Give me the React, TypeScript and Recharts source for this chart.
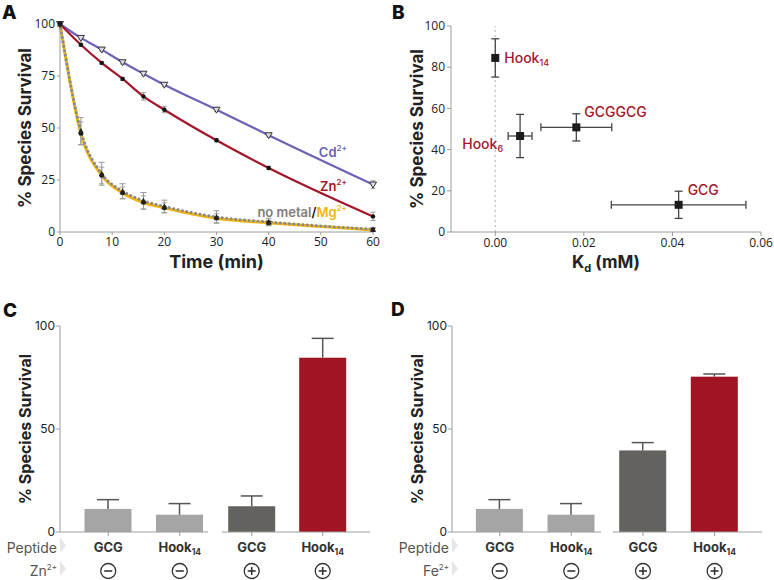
import React from "react";
import {
  ComposedChart,
  Line,
  Bar,
  Cell,
  XAxis,
  YAxis,
  ErrorBar,
  ReferenceDot,
  ReferenceLine,
  ScatterChart,
  Scatter,
  Label,
} from "recharts";

// panel A: survival over time
const times = [0, 4, 8, 12, 16, 20, 30, 40, 60];
const cdSurvival = [100, 93.3, 87.7, 81.6, 76.1, 70.8, 58.8, 46.5, 22.8];
const cdError = [0, 0.6, 0.6, 0.8, 0.8, 0.8, 0.8, 0.8, 1.8];
const znSurvival = [100, 90.0, 81.3, 73.6, 65.2, 58.8, 44.1, 30.8, 7.5];
const znError = [0, 0.6, 0.6, 0.8, 1.8, 1.5, 0.8, 0.8, 2.0];
const noMetalSurvival = [100, 48.5, 28.0, 19.6, 15.0, 12.3, 7.2, 4.8, 1.3];
const noMetalError = [0, 6.5, 5.5, 3.6, 4.0, 3.0, 3.0, 1.8, 0.8];
const mgSurvival = [100, 47.4, 27.2, 18.8, 14.2, 11.6, 6.6, 4.4, 1.0];
const mgError = [0, 5.5, 4.0, 2.8, 3.2, 2.4, 2.2, 1.2, 0.6];
const timeTicks = [0, 10, 20, 30, 40, 50, 60];
const survivalTicksA = [0, 25, 50, 75, 100];

// panel B: survival vs Kd
const kdPeptides = ["Hook14", "Hook6", "GCGGCG", "GCG"];
const kdValues = [0, 0.0056, 0.0183, 0.0414];
const kdErrors = [0, 0.0027, 0.008, 0.0152];
const kdSurvival = [84.5, 46.6, 50.8, 13.2];
const kdSurvivalErrors = [9.3, 10.5, 6.6, 6.6];
const kdTicks = [0, 0.02, 0.04, 0.06];
const survivalTicksB = [0, 20, 40, 60, 80, 100];

// panels C and D: bars
const barPeptides = ["GCG", "Hook14"];
const znMinus = [11.2, 8.4];
const znMinusErr = [4.5, 5.4];
const znPlus = [12.5, 84.6];
const znPlusErr = [5.0, 9.4];
const feMinus = [11.2, 8.4];
const feMinusErr = [4.5, 5.4];
const fePlus = [39.6, 75.4];
const fePlusErr = [3.8, 1.3];
const barTicks = [0, 50, 100];

const FRAME = "#9c9c9c";
const TEXT = "#222";
const RED = "#a3172a";
const PURPLE = "#6c63b6";
const YELLOW = "#f2b50f";
const GREY = "#8a8a8a";
const TICK_FONT = "'Open Sans', sans-serif";
const TITLE_FONT = "Inter, 'Noto Sans', sans-serif";

const tickStyleAB = { fill: TEXT, fontSize: 12, fontFamily: TICK_FONT };
const tickStyleCD = { fill: TEXT, fontSize: 12, fontFamily: TITLE_FONT };

const splitName = (name: string) => {
  const m = name.match(/^(\D+)(\d*)$/);
  return m ? [m[1], m[2]] : [name, ""];
};

const yTitle = (text: string, dx: number, size: number) => (props: any) => {
  const vb = props.viewBox;
  const cx = vb.x + dx;
  const cy = vb.y + vb.height / 2;
  return (
    <text
      x={cx}
      y={cy}
      transform={`rotate(-90 ${cx} ${cy})`}
      textAnchor="middle"
      dominantBaseline="central"
      fontFamily={TITLE_FONT}
      fontWeight={700}
      fontSize={size}
      fill={TEXT}
    >
      {text}
    </text>
  );
};

const timeTitle = (props: any) => {
  const vb = props.viewBox;
  return (
    <text x={vb.x + vb.width / 2} y={vb.y + 36} textAnchor="middle" fontFamily={TITLE_FONT} fontWeight={700} fontSize={18} fill={TEXT}>
      Time (min)
    </text>
  );
};

const kdTitle = (props: any) => {
  const vb = props.viewBox;
  return (
    <text x={vb.x + vb.width / 2} y={vb.y + 36} textAnchor="middle" fontFamily={TITLE_FONT} fontWeight={700} fontSize={17} fill={TEXT}>
      K<tspan fontSize={11} dy={4}>d</tspan>
      <tspan dy={-4}> (mM)</tspan>
    </text>
  );
};

const seriesLabel = (parts: { t: string; c: string; sup?: boolean }[]) => (props: any) => {
  const { x, y } = props.viewBox;
  return (
    <text x={x} y={y} textAnchor="end" fontFamily={TITLE_FONT} fontWeight={600} fontSize={13}>
      {parts.map((p, i) =>
        p.sup ? (
          <tspan key={i} fill={p.c} fontSize={8} dy={-6}>
            {p.t}
          </tspan>
        ) : (
          <tspan key={i} fill={p.c}>
            {p.t}
          </tspan>
        )
      )}
    </text>
  );
};

const cdDot = (p: any) => (
  <path
    key={`cd-${p.index}`}
    d={`M${p.cx - 3.5},${p.cy - 2.5} L${p.cx + 3.5},${p.cy - 2.5} L${p.cx},${p.cy + 3.5} Z`}
    fill="#dcdce6"
    stroke="#333"
    strokeWidth={1}
  />
);
const znDot = (p: any) => <circle key={`zn-${p.index}`} cx={p.cx} cy={p.cy} r={2.2} fill="#111" />;
const noMetalDot = (p: any) => (
  <path key={`nm-${p.index}`} d={`M${p.cx - 3},${p.cy + 2.5} L${p.cx + 3},${p.cy + 2.5} L${p.cx},${p.cy - 3} Z`} fill="#222" />
);
const mgDot = (p: any) => <rect key={`mg-${p.index}`} x={p.cx - 2} y={p.cy - 2} width={4} height={4} fill="#111" />;

function PanelA() {
  const data = times.map((t, i) => ({
    t,
    cd: cdSurvival[i],
    cdErr: cdError[i],
    zn: znSurvival[i],
    znErr: znError[i],
    nm: noMetalSurvival[i],
    nmErr: noMetalError[i],
    mg: mgSurvival[i],
    mgErr: mgError[i],
  }));
  return (
    <ComposedChart width={390} height={280} data={data} margin={{ top: 24, right: 17, bottom: 0, left: 0 }}>
      <XAxis dataKey="t" type="number" domain={[0, 60]} ticks={timeTicks} interval={0} height={48} stroke={FRAME} tickSize={3} tick={tickStyleAB}>
        <Label content={timeTitle} />
      </XAxis>
      <XAxis xAxisId="top" orientation="top" type="number" domain={[0, 60]} height={0} tick={false} tickLine={false} stroke={FRAME} />
      <YAxis type="number" domain={[0, 100]} ticks={survivalTicksA} interval={0} width={60} stroke={FRAME} tickSize={3} tickMargin={2} tick={tickStyleAB}>
        <Label content={yTitle("% Species Survival", 25, 17)} />
      </YAxis>
      <YAxis yAxisId="right" orientation="right" domain={[0, 100]} width={0} tick={false} tickLine={false} stroke={FRAME} />
      <Line dataKey="cd" type="monotone" stroke={PURPLE} strokeWidth={2.2} dot={cdDot} activeDot={false} isAnimationActive={false}>
        <ErrorBar dataKey="cdErr" direction="y" width={2.5} stroke="#999" strokeWidth={1} />
      </Line>
      <Line dataKey="zn" type="monotone" stroke={RED} strokeWidth={2.2} dot={znDot} activeDot={false} isAnimationActive={false}>
        <ErrorBar dataKey="znErr" direction="y" width={2.5} stroke="#999" strokeWidth={1} />
      </Line>
      <Line dataKey="mg" type="monotone" stroke={YELLOW} strokeWidth={3} dot={mgDot} activeDot={false} isAnimationActive={false}>
        <ErrorBar dataKey="mgErr" direction="y" width={2.5} stroke="#a0a0a0" strokeWidth={1} />
      </Line>
      <Line
        dataKey="nm"
        type="monotone"
        stroke={GREY}
        strokeWidth={3}
        strokeDasharray="0.1 4.4"
        strokeLinecap="round"
        dot={noMetalDot}
        activeDot={false}
        isAnimationActive={false}
      >
        <ErrorBar dataKey="nmErr" direction="y" width={3} stroke="#9a9a9a" strokeWidth={1} />
      </Line>
      <ReferenceDot x={55} y={36} r={0} label={seriesLabel([{ t: "Cd", c: "#6b5fb2" }, { t: "2+", c: "#6b5fb2", sup: true }])} />
      <ReferenceDot x={55} y={19.5} r={0} label={seriesLabel([{ t: "Zn", c: RED }, { t: "2+", c: RED, sup: true }])} />
      <ReferenceDot
        x={55}
        y={7}
        r={0}
        label={seriesLabel([
          { t: "no metal", c: "#7e7e7e" },
          { t: "/", c: "#111" },
          { t: "Mg", c: YELLOW },
          { t: "2+", c: YELLOW, sup: true },
        ])}
      />
    </ComposedChart>
  );
}

const kdLabelPlacement: Record<string, { dx: number; dy: number; anchor: "start" | "end" }> = {
  Hook14: { dx: 9, dy: 5, anchor: "start" },
  Hook6: { dx: -17, dy: 13, anchor: "end" },
  GCGGCG: { dx: 8, dy: -10, anchor: "start" },
  GCG: { dx: 9, dy: -10, anchor: "start" },
};

const kdPoint = (p: any) => {
  const name = p.payload.name as string;
  const [main, sub] = splitName(name);
  const place = kdLabelPlacement[name];
  return (
    <g>
      <rect x={p.cx - 4} y={p.cy - 4} width={8} height={8} fill="#1b1b1b" />
      <text x={p.cx + place.dx} y={p.cy + place.dy} textAnchor={place.anchor} fontFamily={TITLE_FONT} fontWeight={500} fontSize={14} fill={RED}>
        {main}
        {sub && (
          <tspan fontSize={9} dy={3}>
            {sub}
          </tspan>
        )}
      </text>
    </g>
  );
};

function PanelB() {
  const data = kdPeptides.map((name, i) => ({
    name,
    kd: kdValues[i],
    kdErr: kdErrors[i],
    surv: kdSurvival[i],
    survErr: kdSurvivalErrors[i],
  }));
  return (
    <ScatterChart width={384} height={280} margin={{ top: 26, right: 13, bottom: 0, left: 0 }}>
      <XAxis
        dataKey="kd"
        type="number"
        domain={[-0.01, 0.06]}
        ticks={kdTicks}
        interval={0}
        tickFormatter={(v: number) => v.toFixed(2)}
        height={48}
        stroke={FRAME}
        tickSize={4}
        tick={tickStyleAB}
      >
        <Label content={kdTitle} />
      </XAxis>
      <XAxis xAxisId="top" orientation="top" type="number" domain={[-0.01, 0.06]} height={0} tick={false} tickLine={false} stroke={FRAME} />
      <YAxis dataKey="surv" type="number" domain={[0, 100]} ticks={survivalTicksB} interval={0} width={61} stroke={FRAME} tickSize={4} tickMargin={2} tick={tickStyleAB}>
        <Label content={yTitle("% Species Survival", 27, 17)} />
      </YAxis>
      <YAxis yAxisId="right" orientation="right" domain={[0, 100]} width={0} tick={false} tickLine={false} stroke={FRAME} />
      <ReferenceLine x={0} stroke="#c8c8c8" strokeWidth={1.5} strokeDasharray="2 3" />
      <Scatter data={data} shape={kdPoint} isAnimationActive={false}>
        <ErrorBar dataKey="survErr" direction="y" width={4} stroke="#444" strokeWidth={1.3} />
        <ErrorBar dataKey="kdErr" direction="x" width={4} stroke="#444" strokeWidth={1.3} />
      </Scatter>
    </ScatterChart>
  );
}

// bar with an upward-only error whisker; pixel length follows the bar's own value/height ratio
const barWithError = (s: any) => {
  const { x, y, width, height, payload, fill } = s;
  const perUnit = payload.value ? height / payload.value : 0;
  const top = y - payload.err * perUnit;
  const cx = x + width / 2;
  return (
    <g>
      <rect x={x} y={y} width={width} height={height} fill={fill} />
      <line x1={cx} x2={cx} y1={y} y2={top} stroke="#555" strokeWidth={1.5} />
      <line x1={cx - 11} x2={cx + 11} y1={top} y2={top} stroke="#555" strokeWidth={1.5} />
    </g>
  );
};

type BarPanelProps = {
  values: number[];
  errors: number[];
  colors: string[];
  signs: string[];
  width: number;
  marginLeft: number;
  marginRight: number;
  yAxisWidth: number;
  padLeft: number;
  padRight: number;
  metal?: string;
};

function BarPanel(p: BarPanelProps) {
  const data = barPeptides.map((peptide, i) => ({ peptide, value: p.values[i], err: p.errors[i] }));
  const showY = p.yAxisWidth > 0;
  const labelX = p.marginLeft + p.yAxisWidth - 3;

  const renderTick = (t: any) => {
    const [main, sub] = splitName(t.payload.value);
    const sign = p.signs[t.index];
    const sy = t.y + 35;
    return (
      <g>
        <text x={t.x} y={t.y + 16} textAnchor="middle" fontFamily={TITLE_FONT} fontWeight={700} fontSize={13} fill="#333">
          {main}
          {sub && (
            <tspan fontSize={8.5} dy={3}>
              {sub}
            </tspan>
          )}
        </text>
        <circle cx={t.x} cy={sy} r={7.5} fill="none" stroke="#333" strokeWidth={1.3} />
        <line x1={t.x - 4} x2={t.x + 4} y1={sy} y2={sy} stroke="#333" strokeWidth={1.6} />
        {sign === "+" && <line x1={t.x} x2={t.x} y1={sy - 4} y2={sy + 4} stroke="#333" strokeWidth={1.6} />}
        {t.index === 0 && p.metal && (
          <g fontFamily={TITLE_FONT} fontSize={14} fill="#555">
            <text x={labelX} y={t.y + 17} textAnchor="end">
              Peptide
            </text>
            <text x={labelX} y={t.y + 40} textAnchor="end">
              {p.metal}
              <tspan fontSize={8} dy={-6}>
                2+
              </tspan>
            </text>
            <path d={`M${labelX + 3},${t.y + 2} L${labelX + 9},${t.y + 9.5} L${labelX + 3},${t.y + 17} Z`} fill="#e6e6e6" />
            <path d={`M${labelX + 3},${t.y + 25} L${labelX + 9},${t.y + 32.5} L${labelX + 3},${t.y + 40} Z`} fill="#e6e6e6" />
          </g>
        )}
      </g>
    );
  };

  return (
    <ComposedChart width={p.width} height={300} data={data} margin={{ top: 46, right: p.marginRight, bottom: 0, left: p.marginLeft }}>
      <XAxis
        dataKey="peptide"
        height={48}
        padding={{ left: p.padLeft, right: p.padRight }}
        stroke={FRAME}
        tickSize={4}
        tickMargin={0}
        interval={0}
        tick={renderTick}
      />
      <XAxis xAxisId="top" dataKey="peptide" orientation="top" height={0} tick={false} tickLine={false} stroke={FRAME} />
      <YAxis
        type="number"
        domain={[0, 100]}
        ticks={barTicks}
        interval={0}
        width={p.yAxisWidth}
        stroke={FRAME}
        tick={showY ? tickStyleCD : false}
        tickLine={showY}
        tickSize={4}
        tickMargin={1}
      >
        {showY && <Label content={yTitle("% Species Survival", 25, 16)} />}
      </YAxis>
      <YAxis yAxisId="right" orientation="right" domain={[0, 100]} width={0} tick={false} tickLine={false} stroke={FRAME} />
      <Bar dataKey="value" barSize={47} shape={barWithError} isAnimationActive={false}>
        {data.map((d, i) => (
          <Cell key={d.peptide + i} fill={p.colors[i]} />
        ))}
      </Bar>
    </ComposedChart>
  );
}

const LIGHT = "#a5a5a5";
const DARK = "#63625e";
const BAR_RED = "#a11522";

export default function App() {
  const letter = { fontFamily: TITLE_FONT, fontWeight: 800, fontSize: 19, fill: "#111" } as const;
  return (
    <div style={{ position: "absolute", left: 0, top: 0, width: 774, height: 580, background: "#fff" }}>
      <div style={{ position: "absolute", left: 0, top: 0 }}>
        <PanelA />
      </div>
      <div style={{ position: "absolute", left: 390, top: 0 }}>
        <PanelB />
      </div>
      <div style={{ position: "absolute", left: 0, top: 280 }}>
        <BarPanel values={znMinus} errors={znMinusErr} colors={[LIGHT, LIGHT]} signs={["-", "-"]} width={215} marginLeft={0} marginRight={7} yAxisWidth={60} padLeft={12.5} padRight={-7.5} metal="Zn" />
      </div>
      <div style={{ position: "absolute", left: 215, top: 280 }}>
        <BarPanel values={znPlus} errors={znPlusErr} colors={[DARK, BAR_RED]} signs={["+", "+"]} width={160} marginLeft={7} marginRight={5} yAxisWidth={0} padLeft={-5.8} padRight={11.8} />
      </div>
      <div style={{ position: "absolute", left: 392, top: 280 }}>
        <BarPanel values={feMinus} errors={feMinusErr} colors={[LIGHT, LIGHT]} signs={["-", "-"]} width={216} marginLeft={0} marginRight={7} yAxisWidth={60} padLeft={11.9} padRight={-6.1} metal="Fe" />
      </div>
      <div style={{ position: "absolute", left: 608, top: 280 }}>
        <BarPanel values={fePlus} errors={fePlusErr} colors={[DARK, BAR_RED]} signs={["+", "+"]} width={159} marginLeft={5} marginRight={5} yAxisWidth={0} padLeft={-5.8} padRight={11.6} />
      </div>
      <svg width={774} height={580} style={{ position: "absolute", left: 0, top: 0, pointerEvents: "none" }}>
        <text x={2} y={19} {...letter}>A</text>
        <text x={392} y={19} {...letter}>B</text>
        <text x={3} y={317} {...letter}>C</text>
        <text x={391} y={316} {...letter}>D</text>
      </svg>
    </div>
  );
}
